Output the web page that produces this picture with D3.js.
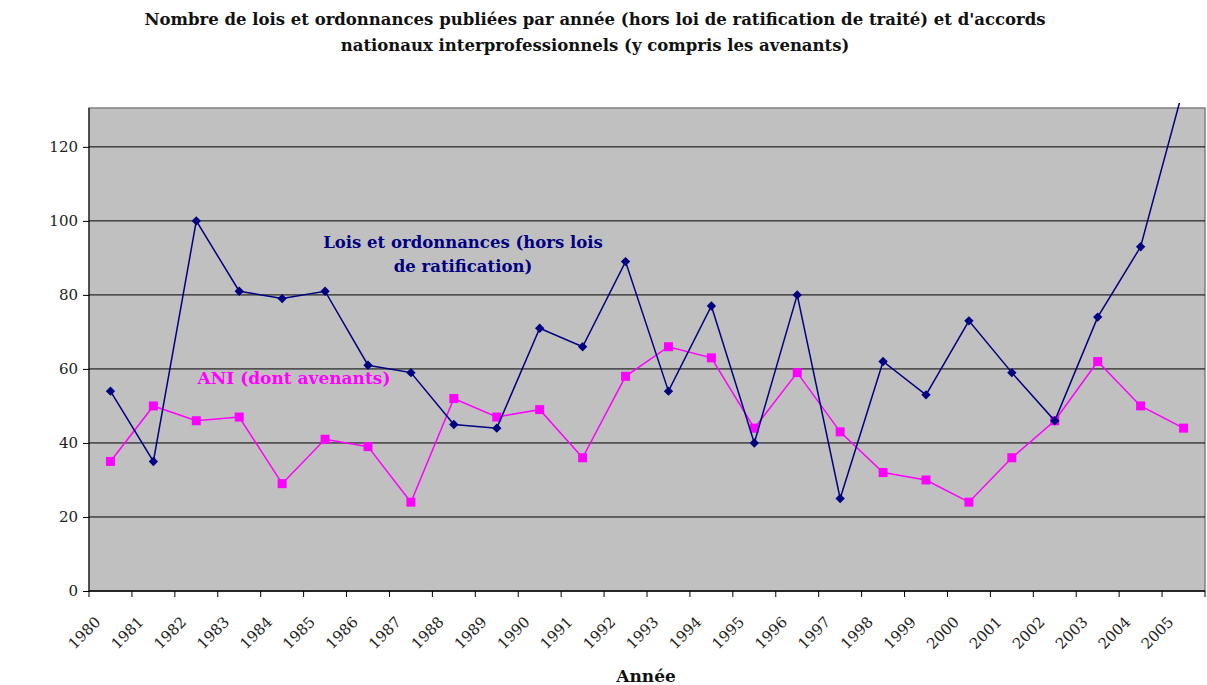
<!DOCTYPE html>
<html>
<head>
<meta charset="utf-8">
<script src="https://cdn.jsdelivr.net/npm/d3@7"></script>
<style>
  body { margin: 0; background: #fff; }
  svg { display: block; }
  svg text { font-family: "DejaVu Serif", serif; }
</style>
</head>
<body>
<div id="chart"></div>
<script>
const years = d3.range(1980, 2006).map(String);
const lois = [54, 35, 100, 81, 79, 81, 61, 59, 45, 44, 71, 66, 89, 54, 77, 40, 80, 25, 62, 53, 73, 59, 46, 74, 93, 136];
const ani = [35, 50, 46, 47, 29, 41, 39, 24, 52, 47, 49, 36, 58, 66, 63, 44, 59, 43, 32, 30, 24, 36, 46, 62, 50, 44];
const yTicks = [0, 20, 40, 60, 80, 100, 120];

const width = 1207;
const height = 685;
const margin = { top: 108, right: 2, bottom: 94, left: 89 };

const svg = d3.select("#chart").append("svg")
  .attr("width", width)
  .attr("height", height);

const x = d3.scaleBand()
  .domain(years)
  .range([margin.left, width - margin.right]);

const y = d3.scaleLinear()
  .domain([0, 130.5])
  .range([height - margin.bottom, margin.top]);

const xc = (d) => x(d) + x.bandwidth() / 2;

// plot area
svg.append("rect")
  .attr("x", margin.left)
  .attr("y", margin.top)
  .attr("width", width - margin.left - margin.right)
  .attr("height", height - margin.top - margin.bottom)
  .attr("fill", "#c0c0c0")
  .attr("stroke", "#808080")
  .attr("stroke-width", 1.5);

// gridlines
svg.append("g")
  .selectAll("line")
  .data(yTicks.filter((d) => d > 0))
  .join("line")
  .attr("x1", margin.left)
  .attr("x2", width - margin.right)
  .attr("y1", (d) => y(d))
  .attr("y2", (d) => y(d))
  .attr("stroke", "#000")
  .attr("stroke-width", 1);

// y axis
const yAxis = svg.append("g")
  .attr("transform", `translate(${margin.left},0)`)
  .call(d3.axisLeft(y).tickValues(yTicks).tickSize(6).tickPadding(5));
yAxis.attr("font-family", null);
yAxis.select(".domain").attr("stroke", "#000").attr("d", `M0,${margin.top}V${y(0)}`);
yAxis.selectAll("text").attr("font-size", 15).attr("fill", "#222");

// x axis (ticks on band boundaries)
const gx = svg.append("g");
gx.append("line")
  .attr("x1", margin.left).attr("x2", width - margin.right)
  .attr("y1", y(0)).attr("y2", y(0))
  .attr("stroke", "#000").attr("stroke-width", 1.5);
gx.selectAll(".tick")
  .data(years.concat(["end"]))
  .join("line")
  .attr("class", "tick")
  .attr("x1", (d) => d === "end" ? width - margin.right : x(d))
  .attr("x2", (d) => d === "end" ? width - margin.right : x(d))
  .attr("y1", y(0))
  .attr("y2", y(0) + 6)
  .attr("stroke", "#000");
gx.selectAll(".label")
  .data(years)
  .join("text")
  .attr("class", "label")
  .attr("text-anchor", "end")
  .attr("font-size", 15)
  .attr("fill", "#222")
  .attr("transform", (d) => `translate(${xc(d) - 9},${y(0) + 32}) rotate(-45)`)
  .text((d) => d);

// clip for the series (the line leaves the plot slightly at the top)
svg.append("clipPath").attr("id", "clip")
  .append("rect")
  .attr("x", margin.left).attr("y", margin.top - 5)
  .attr("width", width - margin.left - margin.right)
  .attr("height", height - margin.top - margin.bottom + 5);

const line = d3.line().x((d, i) => xc(years[i])).y((d) => y(d));
const plot = svg.append("g").attr("clip-path", "url(#clip)");

plot.append("path").datum(ani)
  .attr("fill", "none").attr("stroke", "#ff00ff").attr("stroke-width", 1.5)
  .attr("d", line);
plot.selectAll(".ani").data(ani).join("rect")
  .attr("class", "ani")
  .attr("x", (d, i) => xc(years[i]) - 4.5)
  .attr("y", (d) => y(d) - 4.5)
  .attr("width", 9).attr("height", 9)
  .attr("fill", "#ff00ff");

plot.append("path").datum(lois)
  .attr("fill", "none").attr("stroke", "#000080").attr("stroke-width", 1.5)
  .attr("d", line);
plot.selectAll(".lois").data(lois).join("path")
  .attr("class", "lois")
  .attr("transform", (d, i) => `translate(${xc(years[i])},${y(d)})`)
  .attr("d", d3.symbol(d3.symbolDiamond2, 56))
  .attr("fill", "#000080");

// series labels
const lab = svg.append("g").attr("font-weight", "bold").attr("text-anchor", "middle");
lab.append("text").attr("x", 463).attr("y", 248).attr("font-size", 16.5).attr("fill", "#000080").text("Lois et ordonnances (hors lois");
lab.append("text").attr("x", 463).attr("y", 272).attr("font-size", 16.5).attr("fill", "#000080").text("de ratification)");
lab.append("text").attr("x", 294).attr("y", 384).attr("font-size", 17).attr("fill", "#ff00ff").text("ANI (dont avenants)");

// title
const title = svg.append("g").attr("font-weight", "bold").attr("font-size", 16.5).attr("text-anchor", "middle").attr("fill", "#111");
title.append("text").attr("x", 595).attr("y", 25).text("Nombre de lois et ordonnances publiées par année (hors loi de ratification de traité) et d'accords");
title.append("text").attr("x", 595).attr("y", 51).text("nationaux interprofessionnels (y compris les avenants)");

// axis titles
svg.append("text")
  .attr("x", 646).attr("y", 682)
  .attr("text-anchor", "middle").attr("font-weight", "bold").attr("font-size", 17).attr("fill", "#111")
  .text("Année");

svg.append("clipPath").attr("id", "yclip")
  .append("rect").attr("x", 0).attr("y", 270).attr("width", 40).attr("height", 200);
svg.append("text")
  .attr("clip-path", "url(#yclip)")
  .attr("transform", "translate(25,435) rotate(-90)")
  .attr("font-weight", "bold").attr("font-size", 15.5).attr("fill", "#111")
  .text("Nombre de textes");
</script>
</body>
</html>
